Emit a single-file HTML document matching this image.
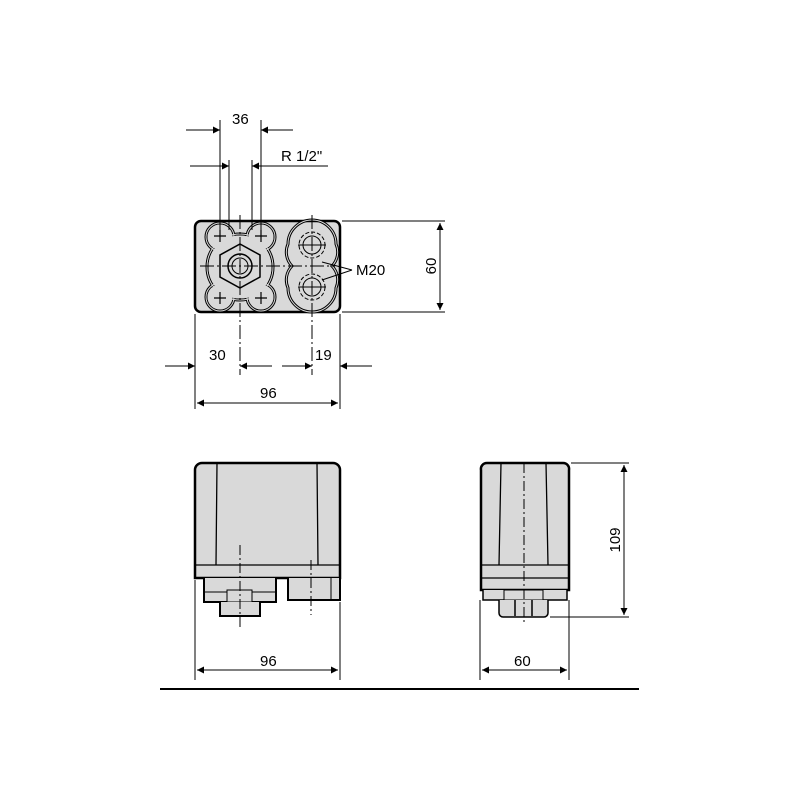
<!DOCTYPE html>
<html><head><style>body{margin:0;background:#fff}svg{display:block}</style></head><body>
<svg width="800" height="800" viewBox="0 0 800 800" xmlns="http://www.w3.org/2000/svg" font-family="Liberation Sans, sans-serif" font-size="15">
<defs>
<marker id="a" viewBox="0 0 10 10" refX="10" refY="5" markerWidth="18" markerHeight="7" markerUnits="userSpaceOnUse" orient="auto-start-reverse"><path d="M0,0L10,5L0,10z" fill="#000"/></marker>
</defs>
<g stroke="#000" fill="none" stroke-width="1">
<!-- top view -->
<rect x="195" y="221" width="145" height="91" rx="6" fill="#d9d9d9" stroke-width="2.5"/>
<g stroke-width="3" fill="#d9d9d9">
<circle cx="220" cy="237" r="14"/><circle cx="261" cy="237" r="14"/><circle cx="220" cy="297" r="14"/><circle cx="261" cy="297" r="14"/><circle cx="240" cy="267" r="33"/>
</g>
<g stroke="none" fill="#d9d9d9">
<circle cx="220" cy="237" r="12.5"/><circle cx="261" cy="237" r="12.5"/><circle cx="220" cy="297" r="12.5"/><circle cx="261" cy="297" r="12.5"/><circle cx="240" cy="267" r="31.5"/>
</g>
<g stroke="#d9d9d9" stroke-width="1">
<circle cx="220" cy="237" r="14"/><circle cx="261" cy="237" r="14"/><circle cx="220" cy="297" r="14"/><circle cx="261" cy="297" r="14"/><circle cx="240" cy="267" r="33"/>
</g>
<polygon points="240,244 260,255 260,277 240,288 220,277 220,255" stroke-width="1.5"/>
<circle cx="240" cy="266" r="12" stroke-width="1.5"/><circle cx="240" cy="266" r="8"/>
<g stroke-width="1.2"><path d="M214,236h12M220,230v12M255,236h12M261,230v12M214,298h12M220,292v12M255,298h12M261,292v12"/></g>
<path d="M312,220a24,24 0 0 1 24,24a20,20 0 0 1 -4,22a20,20 0 0 1 4,22a24,24 0 0 1 -48,0a20,20 0 0 1 4,-22a20,20 0 0 1 -4,-22a24,24 0 0 1 24,-24z" stroke-width="3"/>
<path d="M312,220a24,24 0 0 1 24,24a20,20 0 0 1 -4,22a20,20 0 0 1 4,22a24,24 0 0 1 -48,0a20,20 0 0 1 4,-22a20,20 0 0 1 -4,-22a24,24 0 0 1 24,-24z" stroke="#d9d9d9" stroke-width="1"/>
<circle cx="312" cy="245" r="13" stroke-dasharray="4 2"/><circle cx="312" cy="245" r="9"/>
<circle cx="312" cy="287" r="13" stroke-dasharray="4 2"/><circle cx="312" cy="287" r="9"/>
<path d="M298,245h28M298,287h28"/>
<path d="M200,266h135" stroke-dasharray="14 3 2 3"/>
<path d="M240,215v160M312,215v160" stroke-dasharray="14 3 2 3"/>
<path d="M220,120v110M261,120v110M229,160v70M252,160v70"/>
<path d="M186,130h34" marker-end="url(#a)"/><path d="M293,130h-32" marker-end="url(#a)"/>
<path d="M190,166h39" marker-end="url(#a)"/><path d="M328,166h-76" marker-end="url(#a)"/>
<path d="M322,262L352,270M322,280L352,270"/>
<path d="M342,221h103M342,312h103"/>
<path d="M440,223v87" marker-start="url(#a)" marker-end="url(#a)"/>
<path d="M195,314v95M340,314v95"/>
<path d="M165,366h30" marker-end="url(#a)"/><path d="M272,366h-32" marker-end="url(#a)"/>
<path d="M282,366h30" marker-end="url(#a)"/><path d="M372,366h-32" marker-end="url(#a)"/>
<path d="M197,403h141" marker-start="url(#a)" marker-end="url(#a)"/>
<!-- front view -->
<path d="M195,470a7,7 0 0 1 7,-7h131a7,7 0 0 1 7,7v108h-145z" fill="#d9d9d9" stroke-width="2.5"/>
<path d="M217,463l-1,102M317,463l1,102M195,565h145" stroke-width="1.3"/>
<path d="M204,578v24h72v-24M288,578v22h52v-22" fill="#d9d9d9" stroke-width="2"/>
<path d="M204,592h72M331,578v22"/>
<rect x="227" y="590" width="25" height="12" fill="#d9d9d9"/>
<path d="M220,602v14h40v-14" fill="#d9d9d9" stroke-width="2"/>
<path d="M240,545v85M311,560v55" stroke-dasharray="10 3 2 3"/>
<path d="M195,580v100M340,602v78"/>
<path d="M197,670h141" marker-start="url(#a)" marker-end="url(#a)"/>
<!-- side view -->
<path d="M481,470a6,6 0 0 1 6,-7h76a6,6 0 0 1 6,7l0,120h-88z" fill="#d9d9d9" stroke-width="2.5"/>
<path d="M501,463l-2,102M546,463l2,102M480,565h89M480,578h89" stroke-width="1.3"/>
<path d="M483,590v10h84v-10" fill="#d9d9d9" stroke-width="1.5"/>
<rect x="504" y="590" width="39" height="10" fill="#d9d9d9"/>
<path d="M499,600v13a4,4 0 0 0 4,4h41a4,4 0 0 0 4,-4v-13M515,600v16M532,600v16" fill="#d9d9d9" stroke-width="1.5"/>
<path d="M524,463v162" stroke-dasharray="10 3 2 3"/>
<path d="M571,463h58M550,617h79"/>
<path d="M624,465v150" marker-start="url(#a)" marker-end="url(#a)"/>
<path d="M480,600v80M569,600v80"/>
<path d="M482,670h85" marker-start="url(#a)" marker-end="url(#a)"/>
<path d="M160,689h479" stroke-width="2"/>
</g>
<g fill="#000">
<text x="232" y="124">36</text>
<text x="281" y="161">R 1/2"</text>
<text x="356" y="275">M20</text>
<text x="436" y="266" transform="rotate(-90 436 266)" text-anchor="middle">60</text>
<text x="209" y="360">30</text>
<text x="315" y="360">19</text>
<text x="260" y="398">96</text>
<text x="260" y="666">96</text>
<text x="514" y="666">60</text>
<text x="620" y="540" transform="rotate(-90 620 540)" text-anchor="middle">109</text>
</g>
</svg>
</body></html>
